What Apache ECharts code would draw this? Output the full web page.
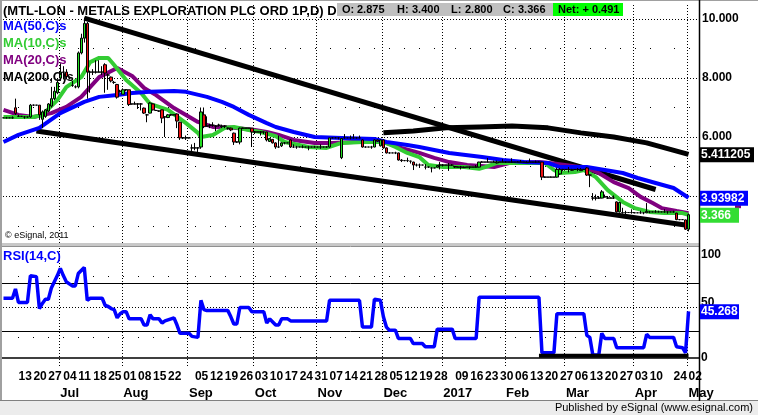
<!DOCTYPE html>
<html><head><meta charset="utf-8">
<script src="https://cdn.jsdelivr.net/npm/echarts@6/dist/echarts.min.js"></script>
<style>html,body{margin:0;padding:0;background:#fff}#c{width:758px;height:415px}</style>
</head><body><div id="c"></div>
<script>
// ---------- calendar ----------
const startDate = '2016-06-06', endDate = '2017-05-02';
const holidays = ['2016-08-29','2016-12-26','2016-12-27','2017-01-02','2017-04-14','2017-04-17','2017-05-01'];
const padCategories = ['p1','p2','p3'];

// ---------- daily OHLC ----------
const opens = [
6.65,6.65,6.65,6.65,6.99,6.7,6.7,6.68,6.68,6.68,
7.08,7.08,7.08,6.6,6.7,6.88,7.05,7.3,7.5,8.0,
8.2,8.2,8.0,7.75,7.7,7.7,8.85,9.35,9.85,8.2,
8.2,8.2,8.2,8.2,8.45,8.1,8.03,7.85,7.78,7.55,
7.45,7.6,7.6,7.12,7.12,7.12,7.12,6.98,6.75,6.81,
7.12,6.9,6.88,6.92,6.68,6.66,6.75,6.75,6.78,6.5,
5.97,5.97,5.97,5.63,5.63,5.63,5.66,6.75,6.37,6.4,
6.4,6.37,6.4,6.35,6.37,6.3,6.3,6.13,5.83,5.83,
6.3,6.3,6.3,6.3,6.17,6.17,6.17,6.17,6.17,5.85,
5.92,5.8,5.66,5.7,5.8,5.8,5.9,5.66,5.66,5.66,
5.66,5.66,5.66,5.66,5.66,5.66,5.66,5.66,5.66,5.66,
5.97,5.97,5.97,5.3,5.97,5.97,5.97,5.97,5.97,5.97,
5.9,5.66,5.66,5.66,5.66,5.9,5.7,5.9,5.63,5.46,
5.46,5.46,5.46,5.22,5.2,5.2,5.18,5.15,5.05,5.05,
5.05,4.98,4.98,4.95,4.95,4.98,5.05,5.05,5.05,5.05,
5.05,5.0,4.98,4.98,4.96,4.98,4.98,4.98,4.98,4.98,
5.15,5.15,5.15,5.15,5.15,5.12,5.15,5.15,5.15,5.15,
5.15,5.15,5.15,5.15,5.15,5.13,5.15,5.15,5.15,5.15,
5.15,4.64,4.64,4.64,4.64,4.64,4.75,4.9,4.9,4.9,
4.87,4.9,4.9,4.86,4.9,4.95,4.71,3.93,3.93,3.93,
3.93,3.97,3.93,3.93,3.93,3.8,3.46,3.44,3.44,3.44,
3.44,3.43,3.43,3.43,3.43,3.43,3.46,3.46,3.46,3.46,
3.46,3.46,3.46,3.46,3.46,3.42,3.2,3.2,3.19,2.875];
const highs = [
6.65,6.68,6.65,6.7,7.3,6.75,6.7,6.7,6.68,7.12,
7.1,7.08,7.08,6.9,6.95,7.15,7.7,7.7,7.95,8.5,
8.4,8.3,8.05,7.9,7.75,8.9,9.5,10.05,9.9,8.25,
8.3,8.6,8.6,8.4,8.5,8.15,8.05,7.9,7.8,7.6,
7.65,7.62,7.6,7.12,7.2,7.15,7.15,7.0,6.78,7.18,
7.14,6.92,6.9,6.93,6.7,6.78,6.78,6.75,6.8,6.52,
6.0,6.05,5.97,5.75,5.8,5.65,7.0,7.0,6.7,6.45,
6.5,6.4,6.45,6.42,6.4,6.32,6.32,6.15,5.85,6.32,
6.32,6.3,6.3,6.3,6.2,6.17,6.2,6.18,6.17,5.97,
5.93,5.82,6.05,5.82,5.82,5.8,5.92,5.75,5.7,5.66,
5.72,5.66,5.68,5.66,5.7,5.66,5.75,5.66,5.68,5.97,
6.0,6.0,5.99,5.97,6.1,5.97,6.05,6.1,5.99,6.05,
5.92,5.68,5.66,5.7,5.92,5.92,5.93,5.92,5.65,5.48,
5.46,5.5,5.47,5.25,5.22,5.3,5.2,5.16,5.1,5.1,
5.05,5.08,5.0,4.97,4.95,5.05,5.15,5.08,5.05,5.12,
5.08,5.02,5.0,5.02,5.0,4.98,5.0,4.98,5.05,5.16,
5.18,5.15,5.29,5.15,5.2,5.2,5.15,5.25,5.18,5.15,
5.28,5.15,5.18,5.22,5.15,5.18,5.27,5.15,5.2,5.18,
5.16,4.66,4.64,4.66,4.64,4.96,4.95,4.92,4.9,4.98,
4.92,4.9,4.95,4.95,4.92,4.98,4.73,4.1,4.05,4.0,
4.2,4.05,4.0,3.95,4.02,3.82,3.8,3.6,3.5,3.44,
3.55,3.45,3.43,3.5,3.45,3.76,3.48,3.46,3.52,3.5,
3.46,3.55,3.48,3.46,3.5,3.43,3.22,3.2,3.2,3.4];
const lows = [
6.65,6.63,6.65,6.62,6.75,6.68,6.7,6.62,6.65,6.65,
7.05,7.08,6.58,6.3,6.65,6.85,7.0,7.25,7.45,7.9,
7.95,7.95,7.95,7.7,7.65,7.65,8.8,9.2,7.3,7.5,
8.1,8.15,8.2,8.1,7.5,7.6,7.85,7.8,7.3,7.5,
7.45,7.55,7.05,7.1,7.1,6.95,6.9,6.78,6.5,6.8,
6.9,6.88,6.85,6.47,6.0,6.64,6.72,6.75,6.3,5.9,
5.93,5.9,5.95,5.5,5.55,5.45,5.6,6.3,6.35,6.3,
6.35,6.2,6.35,6.3,6.3,6.25,6.2,5.73,5.8,5.75,
6.28,6.3,6.3,5.66,6.1,6.17,6.05,6.1,5.85,5.83,
5.78,5.6,5.63,5.66,5.75,5.8,5.63,5.63,5.6,5.66,
5.62,5.66,5.55,5.66,5.64,5.66,5.6,5.66,5.64,5.64,
5.95,5.97,5.92,5.25,5.95,5.97,5.92,5.95,5.95,5.97,
5.64,5.64,5.66,5.6,5.65,5.84,5.68,5.6,5.44,5.44,
5.46,5.42,5.2,5.15,5.18,5.15,5.1,4.88,5.0,4.95,
5.05,4.9,4.95,4.8,4.95,4.97,4.9,5.0,5.05,4.85,
5.02,4.95,4.98,4.9,4.95,4.98,4.92,4.98,4.97,4.97,
5.14,5.15,5.14,5.15,5.15,5.1,5.15,5.15,5.12,5.15,
5.13,5.15,5.15,5.15,5.15,5.12,5.15,5.15,5.12,5.15,
4.54,4.62,4.64,4.63,4.64,4.62,4.72,4.85,4.9,4.8,
4.85,4.9,4.84,4.85,4.88,4.68,4.3,3.85,3.85,3.9,
3.92,3.95,3.9,3.93,3.9,3.44,3.44,3.4,3.38,3.44,
3.4,3.42,3.43,3.4,3.38,3.42,3.42,3.46,3.44,3.45,
3.46,3.44,3.4,3.46,3.44,3.18,3.18,3.2,2.85,2.8];
const closes = [
6.65,6.65,6.65,6.65,6.8,6.7,6.7,6.68,6.68,7.08,
7.08,7.08,6.75,6.85,6.92,7.12,7.3,7.55,7.85,8.2,
8.2,8.05,8.0,7.75,7.7,8.85,9.35,9.85,8.2,8.2,
8.2,8.2,8.2,8.2,8.17,8.1,7.9,7.85,7.35,7.55,
7.6,7.6,7.1,7.12,7.12,7.12,7.12,6.81,6.75,7.15,
6.92,6.9,6.88,6.64,6.68,6.75,6.75,6.75,6.54,5.97,
5.97,5.97,5.97,5.63,5.63,5.63,6.85,6.35,6.37,6.4,
6.4,6.37,6.4,6.37,6.37,6.3,6.24,5.83,5.83,6.3,
6.3,6.3,6.3,6.17,6.17,6.17,6.17,6.17,5.9,5.95,
5.8,5.66,5.66,5.8,5.8,5.8,5.66,5.66,5.66,5.66,
5.66,5.66,5.66,5.66,5.66,5.66,5.66,5.66,5.66,5.97,
5.97,5.97,5.97,5.95,5.97,5.97,5.97,5.97,5.97,5.97,
5.66,5.66,5.66,5.66,5.9,5.86,5.9,5.63,5.46,5.46,
5.46,5.46,5.22,5.2,5.2,5.2,5.18,5.05,5.05,5.05,
5.05,4.98,4.98,4.95,4.95,5.03,5.05,5.05,5.05,5.05,
5.05,4.98,4.98,4.98,4.98,4.98,4.98,4.98,4.98,5.15,
5.15,5.15,5.15,5.15,5.15,5.15,5.15,5.15,5.15,5.15,
5.15,5.15,5.15,5.15,5.15,5.15,5.15,5.15,5.15,5.15,
4.64,4.64,4.64,4.64,4.64,4.9,4.9,4.9,4.9,4.9,
4.9,4.9,4.9,4.9,4.9,4.71,4.71,3.93,3.93,3.93,
4.14,3.97,3.93,3.93,3.93,3.46,3.78,3.44,3.44,3.44,
3.44,3.43,3.43,3.43,3.43,3.48,3.46,3.46,3.46,3.46,
3.46,3.46,3.46,3.46,3.46,3.2,3.2,3.2,2.875,3.366];

// ---------- moving averages, read as [day index, value] ----------
const ma50 = [[0,5.83],[5,6.07],[12,6.31],[19,6.81],[27,7.19],[32,7.36],[38,7.42],[43,7.49],[49,7.53],[57,7.56],[61,7.53],[68,7.36],[73,7.19],[77,7.02],[82,6.75],[88,6.47],[91,6.34],[97,6.17],[104,6.0],[113,5.97],[124,5.93],[128,5.83],[135,5.73],[139,5.66],[149,5.46],[160,5.32],[167,5.22],[174,5.15],[182,5.12],[186,4.98],[195,4.98],[201,4.88],[207,4.78],[212,4.61],[218,4.44],[224,4.27],[229,3.94]];
const ma10 = [[0,6.68],[10,6.68],[13,6.75],[18,7.25],[21,7.69],[26,8.03],[29,8.54],[32,8.68],[35,8.68],[37,8.44],[41,7.93],[46,7.49],[49,7.12],[55,6.92],[61,6.47],[65,6.14],[66,6.0],[70,6.07],[74,6.31],[77,6.34],[82,6.24],[86,6.17],[91,6.03],[94,5.83],[102,5.66],[108,5.63],[113,5.8],[120,5.83],[127,5.83],[131,5.66],[135,5.46],[139,5.32],[142,5.05],[147,4.98],[154,4.98],[159,4.92],[161,4.98],[165,5.12],[181,5.12],[184,4.88],[186,4.78],[191,4.81],[194,4.88],[198,4.64],[202,4.2],[207,3.8],[211,3.59],[216,3.46],[221,3.42],[227,3.42],[229,3.36]];
const ma20 = [[0,6.92],[5,6.75],[10,6.68],[16,6.81],[21,7.02],[26,7.36],[32,8.03],[38,8.34],[43,8.07],[47,7.66],[51,7.42],[57,6.98],[65,6.51],[70,6.34],[77,6.31],[84,6.24],[88,6.17],[92,6.07],[97,5.9],[104,5.8],[110,5.8],[117,5.83],[127,5.83],[133,5.63],[139,5.46],[144,5.29],[149,5.15],[155,5.05],[164,4.98],[169,5.12],[179,5.15],[184,5.1],[195,4.95],[199,4.78],[204,4.47],[209,4.27],[213,3.97],[217,3.76],[220,3.59],[225,3.49],[229,3.42]];
const ma200 = [[127,6.14],[137,6.2],[148,6.31],[159,6.34],[170,6.37],[182,6.31],[193,6.14],[204,6.0],[215,5.8],[229,5.41]];

// ---------- trend lines (end points) ----------
const upperTrend = [[27,10.03],[218,4.22]];
const lowerTrend = [[11,6.2],[229,3.0]];
const rsiSupport = [[179,2.2],[229,2.2]];

// ---------- RSI(14) read as [day index, value] ----------
const rsi = [[0,58],[3,58],[4,67],[5,54],[8,54],[9,80],[11,79],[12,48],[13,53],[14,57],[15,57],[16,68],[17,74],[18,80],[19,87],[20,80],[21,74],[22,72],[23,70],[24,70],[25,82],[26,85],[27,88],[28,56],[29,58],[33,58],[34,51],[35,50],[36,48],[37,47],[38,39],[39,43],[40,45],[41,45],[42,38],[46,38],[47,32],[48,32],[49,42],[50,38],[52,38],[53,34],[54,36],[55,37],[57,39],[58,32],[59,24],[62,24],[63,21],[65,20],[66,56],[67,47],[68,46],[75,46],[76,40],[77,33],[78,33],[79,49],[82,49],[83,45],[87,45],[88,34],[89,38],[90,35],[91,32],[92,32],[93,38],[95,38],[96,36],[108,36],[109,56],[119,56],[120,30],[123,30],[124,57],[126,56],[127,40],[128,30],[129,27],[131,27],[132,19],[136,19],[137,14],[140,14],[141,11],[144,11],[145,28],[150,28],[151,19],[158,19],[159,59],[179,59],[180,5],[184,5],[185,43],[194,43],[195,22],[196,20],[197,3],[199,3],[200,24],[201,19],[204,19],[205,10],[214,10],[215,23],[216,20],[224,20],[225,11],[227,10],[228,5],[229,45.268]];

// ---------- ticks / labels ----------
const dayTicks = ['2016-06-13','2016-06-20','2016-06-27','2016-07-04','2016-07-11','2016-07-18','2016-07-25','2016-08-01','2016-08-08','2016-08-15','2016-08-22','2016-09-05','2016-09-12','2016-09-19','2016-09-26','2016-10-03','2016-10-10','2016-10-17','2016-10-24','2016-10-31','2016-11-07','2016-11-14','2016-11-21','2016-11-28','2016-12-05','2016-12-12','2016-12-19','2016-12-28','2017-01-09','2017-01-16','2017-01-23','2017-01-30','2017-02-06','2017-02-13','2017-02-20','2017-02-27','2017-03-06','2017-03-13','2017-03-20','2017-03-27','2017-04-03','2017-04-10','2017-04-24','2017-05-02'];
const monthTicks = [['2016-07-01','Jul'],['2016-08-01','Aug'],['2016-09-01','Sep'],['2016-10-03','Oct'],['2016-11-01','Nov'],['2016-12-01','Dec'],['2017-01-03','2017'],['2017-02-01','Feb'],['2017-03-01','Mar'],['2017-04-03','Apr'],['2017-05-02','May']];
const priceTicks = [6, 8, 10];
const rsiTicks = [0, 50, 100];
const priceGridMajor = [4, 6, 8, 10];
const priceGridMinor = [3, 5, 7, 9];
const rsiBands = [73, 26.5];
const rsiGridMajor = [50];
const rsiGridMinor = [80, 20];
const lastQuote = {O:'2.875', H:'3.400', L:'2.800', C:'3.366', Net:'+ 0.491'};
const tags = {ma200:5.411205, ma50:3.93982, ma20:3.41765, last:3.366, rsi:45.268};

// ---------- build ----------
function tradingDays(){
  const out=[]; const hs=new Set(holidays);
  let d=new Date(startDate+'T00:00:00Z'); const e=new Date(endDate+'T00:00:00Z');
  while(d<=e){const w=d.getUTCDay(); const s=d.toISOString().slice(0,10);
    if(w!==0&&w!==6&&!hs.has(s)) out.push(s); d=new Date(d.getTime()+86400000);}
  return out;
}
const dates = tradingDays();
const cats = dates.concat(padCategories);
const daySet = new Set(dayTicks);
const monthMap = new Map(monthTicks);
const candles = dates.map((d,i)=>[opens[i],closes[i],lows[i],highs[i]]);
const FF = '"Liberation Sans", Arial, sans-serif';
const G0 = {left:2, top:4, width:697, height:239};
const G1 = {left:2, top:247, width:697, height:121};

const chart = echarts.init(document.getElementById('c'), null, {renderer:'canvas', width:758, height:415, devicePixelRatio:1});
const option = {
  animation:false,
  backgroundColor:'#fff',
  grid:[G0, G1],
  xAxis:[
    {gridIndex:0, type:'category', data:cats, boundaryGap:true, axisLine:{show:false}, axisTick:{show:false}, axisLabel:{show:false}, splitLine:{show:false}},
    {gridIndex:1, type:'category', data:cats, boundaryGap:true, axisLine:{show:true, lineStyle:{color:'#000', width:1.5}}, axisTick:{show:false},
      axisLabel:{interval:(i,v)=>daySet.has(v), formatter:v=>v.slice(8), align:'left', margin:3, fontSize:12, fontWeight:'bold', color:'#000', fontFamily:FF},
      splitLine:{show:false}},
    {gridIndex:1, type:'category', data:cats, boundaryGap:true, position:'bottom', offset:17, axisLine:{show:false}, axisTick:{show:false},
      axisLabel:{interval:(i,v)=>monthMap.has(v), formatter:v=>monthMap.get(v), align:'left', margin:2, fontSize:13, fontWeight:'bold', color:'#000', fontFamily:FF},
      splitLine:{show:false}}
  ],
  yAxis:[
    {gridIndex:0, type:'value', position:'right', min:2.407, max:10.508, axisLine:{show:false}, axisTick:{show:false}, axisLabel:{show:false}, splitLine:{show:false}},
    {gridIndex:1, type:'value', position:'right', min:-9.71, max:107.77, axisLine:{show:false}, axisTick:{show:false}, axisLabel:{show:false}, splitLine:{show:false}}
  ],
  series:[
    {type:'line', name:'upper', xAxisIndex:0, yAxisIndex:0, data:upperTrend, showSymbol:false, silent:true, z:2, lineStyle:{color:'#000', width:5}},
    {type:'line', name:'lower', xAxisIndex:0, yAxisIndex:0, data:lowerTrend, showSymbol:false, silent:true, z:2, lineStyle:{color:'#000', width:5}},
    {type:'line', name:'MA(200,C)s', xAxisIndex:0, yAxisIndex:0, data:ma200, showSymbol:false, silent:true, z:3, lineStyle:{color:'#000', width:5}},
    {type:'line', name:'MA(20,C)s', xAxisIndex:0, yAxisIndex:0, data:ma20, showSymbol:false, silent:true, z:3, lineStyle:{color:'#800080', width:4}},
    {type:'line', name:'MA(10,C)s', xAxisIndex:0, yAxisIndex:0, data:ma10, showSymbol:false, silent:true, z:3, lineStyle:{color:'#33cc33', width:4}},
    {type:'line', name:'MA(50,C)s', xAxisIndex:0, yAxisIndex:0, data:ma50, showSymbol:false, silent:true, z:3, lineStyle:{color:'#0000ff', width:4}},
    {type:'candlestick', name:'MTL-LON', xAxisIndex:0, yAxisIndex:0, data:candles, barWidth:3, z:4, silent:true,
      itemStyle:{color:'#22dd22', color0:'#ee1111', borderColor:'#000', borderColor0:'#000', borderColorDoji:'#000', borderWidth:1}},
    {type:'line', name:'RSI(14,C)', xAxisIndex:1, yAxisIndex:1, data:rsi, showSymbol:false, silent:true, z:3, lineStyle:{color:'#0000ff', width:3.5}},
    {type:'line', name:'support', xAxisIndex:1, yAxisIndex:1, data:rsiSupport, showSymbol:false, silent:true, z:4, lineStyle:{color:'#000', width:4}}
  ]
};
chart.setOption(option);

// ---------- overlay: grid dots, texts, frame ----------
const py = v => chart.convertToPixel({yAxisIndex:0}, v);
const ry = v => chart.convertToPixel({yAxisIndex:1}, v);
const px = i => chart.convertToPixel({xAxisIndex:0}, i);
function txt(text, x, y, opt){ opt=opt||{}; return {type:'text', z:opt.z||50, style:{text:text, x:x, y:y, fill:opt.fill||'#000', font:opt.font||('bold 13px '+FF), textAlign:opt.align||'left', align:opt.align||'left', textVerticalAlign:'middle', verticalAlign:'middle'}}; }
function rect(x,y,w,h,fill,z){ return {type:'rect', z:z||40, silent:true, shape:{x:x,y:y,width:w,height:h}, style:{fill:fill}}; }
function line(x1,y1,x2,y2,stroke,w,z){ return {type:'line', z:z||45, silent:true, shape:{x1:x1,y1:y1,x2:x2,y2:y2}, style:{stroke:stroke, lineWidth:w}}; }
// dotted grid built from 1px squares
const dots = [];
function dot(x,y){ dots.push({type:'rect', silent:true, shape:{x:x,y:y,width:1,height:1}, style:{fill:'#000'}}); }
function hDots(y, x0, x1, step){ y=Math.round(y); for(let x=x0; x<x1; x+=step) dot(x,y); }
function vDots(x, y0, y1, step){ x=Math.round(x); for(let y=y0; y<y1; y+=step) dot(x,y); }
const L = G0.left, R = G0.left + G0.width;
const bw = G0.width / cats.length;
priceGridMajor.forEach(v=>hDots(py(v), L+1, R, 3));
rsiGridMajor.forEach(v=>hDots(ry(v), L+1, R, 3));
const weekX = dayTicks.map(d=>Math.round(px(cats.indexOf(d))));
priceGridMinor.forEach(v=>weekX.forEach(x=>dot(x, Math.round(py(v)))));
rsiGridMinor.forEach(v=>weekX.forEach(x=>dot(x, Math.round(ry(v)))));
monthTicks.forEach(m=>{const x=px(cats.indexOf(m[0]))-bw/2;
  vDots(x, G0.top+1, G0.top+G0.height, 3); vDots(x, G1.top+1, G1.top+G1.height, 3);});
const g = [];
g.push({type:'group', z:1, silent:true, children:dots});
rsiBands.forEach(v=>{const y=Math.round(ry(v))+0.5; g.push(line(L,y,R,y,'#000',1,1));});
// frame
g.push(line(0,0.5,758,0.5,'#a0a0a0',1));
g.push(line(1,0,1,400,'#a0a0a0',2));
g.push(rect(2,243,697,3,'#c8c8c8',41));
g.push(line(2,246.5,699,246.5,'#909090',1));
g.push(rect(0,401,758,14,'#ececec',40));
g.push(line(0,400.5,758,400.5,'#808080',1));
g.push(line(699.5,0,699.5,401,'#000',1.5));
// title & quote box
g.push(txt('(MTL-LON - METALS EXPLORATION PLC ORD 1P,D) D', 3, 11));
g.push(rect(337,3,216,13,'#c0c0c0',60));
g.push(rect(553,3,70,13,'#00ff00',60));
const qf = 'bold 11px '+FF;
[['O:',342],[lastQuote.O,357],['H:',397],[lastQuote.H,412],['L:',451],[lastQuote.L,465],['C:',503],[lastQuote.C,518],['Net: '+lastQuote.Net,558]]
  .forEach(a=>g.push(txt(a[0],a[1],10,{font:qf,z:61})));
// legend
g.push(txt('MA(50,C)s',3,26,{fill:'#0000ff'}));
g.push(txt('MA(10,C)s',3,43,{fill:'#33cc33'}));
g.push(txt('MA(20,C)s',3,60,{fill:'#800080'}));
g.push(txt('MA(200,C)s',3,77,{fill:'#000'}));
g.push(txt('\u00a9 eSignal, 2011',5,236,{font:'9px '+FF}));
g.push(txt('RSI(14,C)',3,256,{fill:'#0000ff'}));
g.push(txt('Published by eSignal (www.esignal.com)',753,408,{font:'11px '+FF, align:'right', z:61}));
// axis labels
priceTicks.forEach(v=>g.push(txt(v.toFixed(3),702,py(v),{font:'bold 12px '+FF})));
rsiTicks.forEach(v=>g.push(txt(String(v),701,ry(v)-(v===50?4:0),{font:'bold 12px '+FF})));
// value tags
function tag(val, y, bg, fg, w){ g.push(rect(700,y-7,w,15,bg,70)); g.push(txt(String(val),701,y+0.5,{font:'bold 12px '+FF, fill:fg, z:71})); }
tag(tags.ma200.toFixed(6), py(tags.ma200), '#000', '#fff', 54);
tag(tags.ma50.toFixed(5), py(tags.ma50), '#0000ff', '#fff', 48);
g.push(rect(735,py(tags.ma20)-8,6,3,'#800080',69));
tag(tags.last.toFixed(3), py(tags.last), '#33dd33', '#fff', 39);
tag(tags.rsi.toFixed(3), ry(tags.rsi), '#0000ff', '#fff', 39);
chart.setOption({graphic:g});
</script></body></html>
